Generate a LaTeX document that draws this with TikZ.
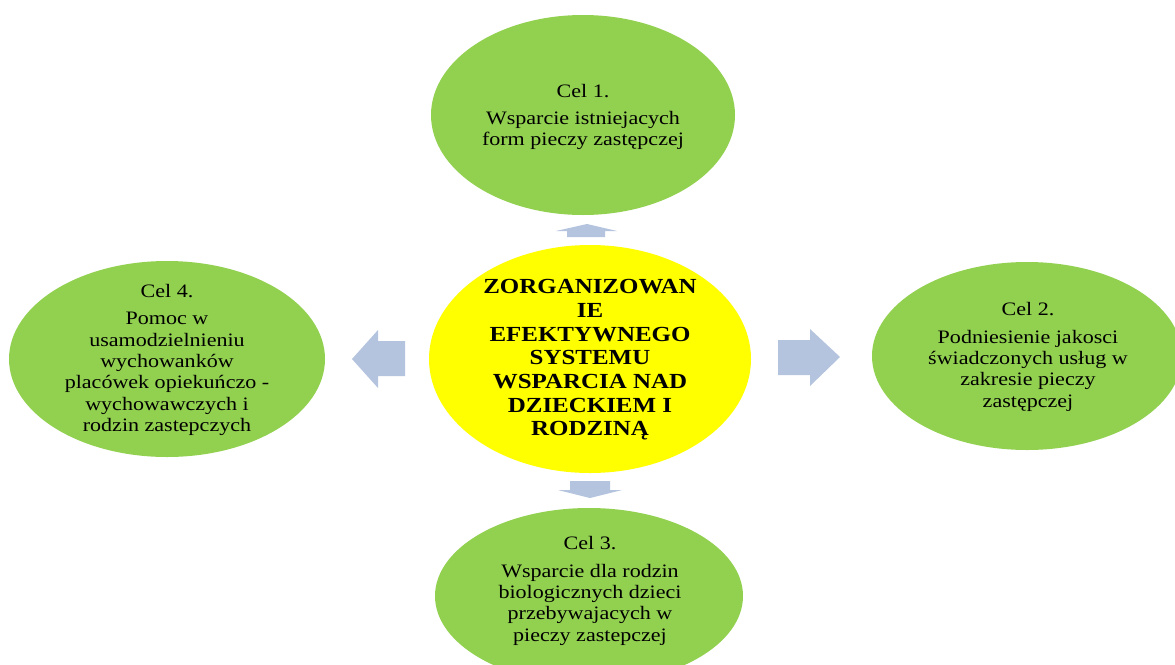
\documentclass[tikz,border=0pt]{standalone}
\usepackage{fontspec}
\setmainfont{Liberation Serif}[FakeStretch=1.16]
\usetikzlibrary{shapes.geometric}
\definecolor{cgreen}{HTML}{92D050}
\definecolor{cyellow}{HTML}{FFFF00}
\definecolor{carrow}{RGB}{180,195,222}
\tikzset{
  goal/.style={ellipse, fill=cgreen, draw=none, inner sep=0pt},
  hub/.style={ellipse, fill=cyellow, draw=none, inner sep=0pt},
  goaltext/.style={align=center, inner sep=0pt, font=\fontsize{19}{21.4}\selectfont},
  hubtext/.style={align=center, inner sep=0pt, font=\fontsize{21.5}{23.7}\selectfont\bfseries},
  blockarrow/.style={fill=carrow, draw=none}
}
\begin{document}
\begin{tikzpicture}[x=1pt,y=-1pt]
\path[use as bounding box, clip] (0,0) rectangle (1175,664);
\fill[white] (0,0) rectangle (1175,664);
% ellipses
\node[goal, minimum width=304pt, minimum height=200pt] (e1) at (583,115) {};
\node[hub,  minimum width=322pt, minimum height=228pt] (e0) at (590,359) {};
\node[goal, minimum width=316pt, minimum height=196pt] (e4) at (167,359) {};
\node[goal, minimum width=310pt, minimum height=188pt] (e2) at (1027,356) {};
\node[goal, minimum width=308pt, minimum height=176pt] (e3) at (589,596) {};
% texts
\node[goaltext] (t1) at (583,117) {Cel 1.\\[6pt]Wsparcie istniejacych\\form pieczy zastępczej};
\node[goaltext] (t2) at (1028,357) {Cel 2.\\[6pt]Podniesienie jakosci\\świadczonych usług w\\zakresie pieczy\\zastępczej};
\node[goaltext] (t3) at (590,591) {Cel 3.\\[6pt]Wsparcie dla rodzin\\biologicznych dzieci\\przebywajacych w\\pieczy zastepczej};
\node[goaltext] (t4) at (167,360) {Cel 4.\\[6pt]Pomoc w\\usamodzielnieniu\\wychowanków\\placówek opiekuńczo -\\wychowawczych i\\rodzin zastepczych};
\node[hubtext] (t0) at (590,360) {ZORGANIZOWAN\\IE\\EFEKTYWNEGO\\SYSTEMU\\WSPARCIA NAD\\DZIECKIEM I\\RODZINĄ};
% block arrows
\fill[blockarrow] (587,224) -- (617,231) -- (605,231) -- (605,237) -- (567,237) -- (567,231) -- (556,231) -- cycle;
\fill[blockarrow] (570,481) -- (610,481) -- (610,490) -- (622,490) -- (590,498) -- (558,490) -- (570,490) -- cycle;
\fill[blockarrow] (352,359) -- (378,330) -- (378,341) -- (405,341) -- (405,376) -- (378,376) -- (378,388) -- cycle;
\fill[blockarrow] (840,357) -- (810,329) -- (810,340) -- (778,340) -- (778,375) -- (810,375) -- (810,386) -- cycle;
\end{tikzpicture}
\end{document}
